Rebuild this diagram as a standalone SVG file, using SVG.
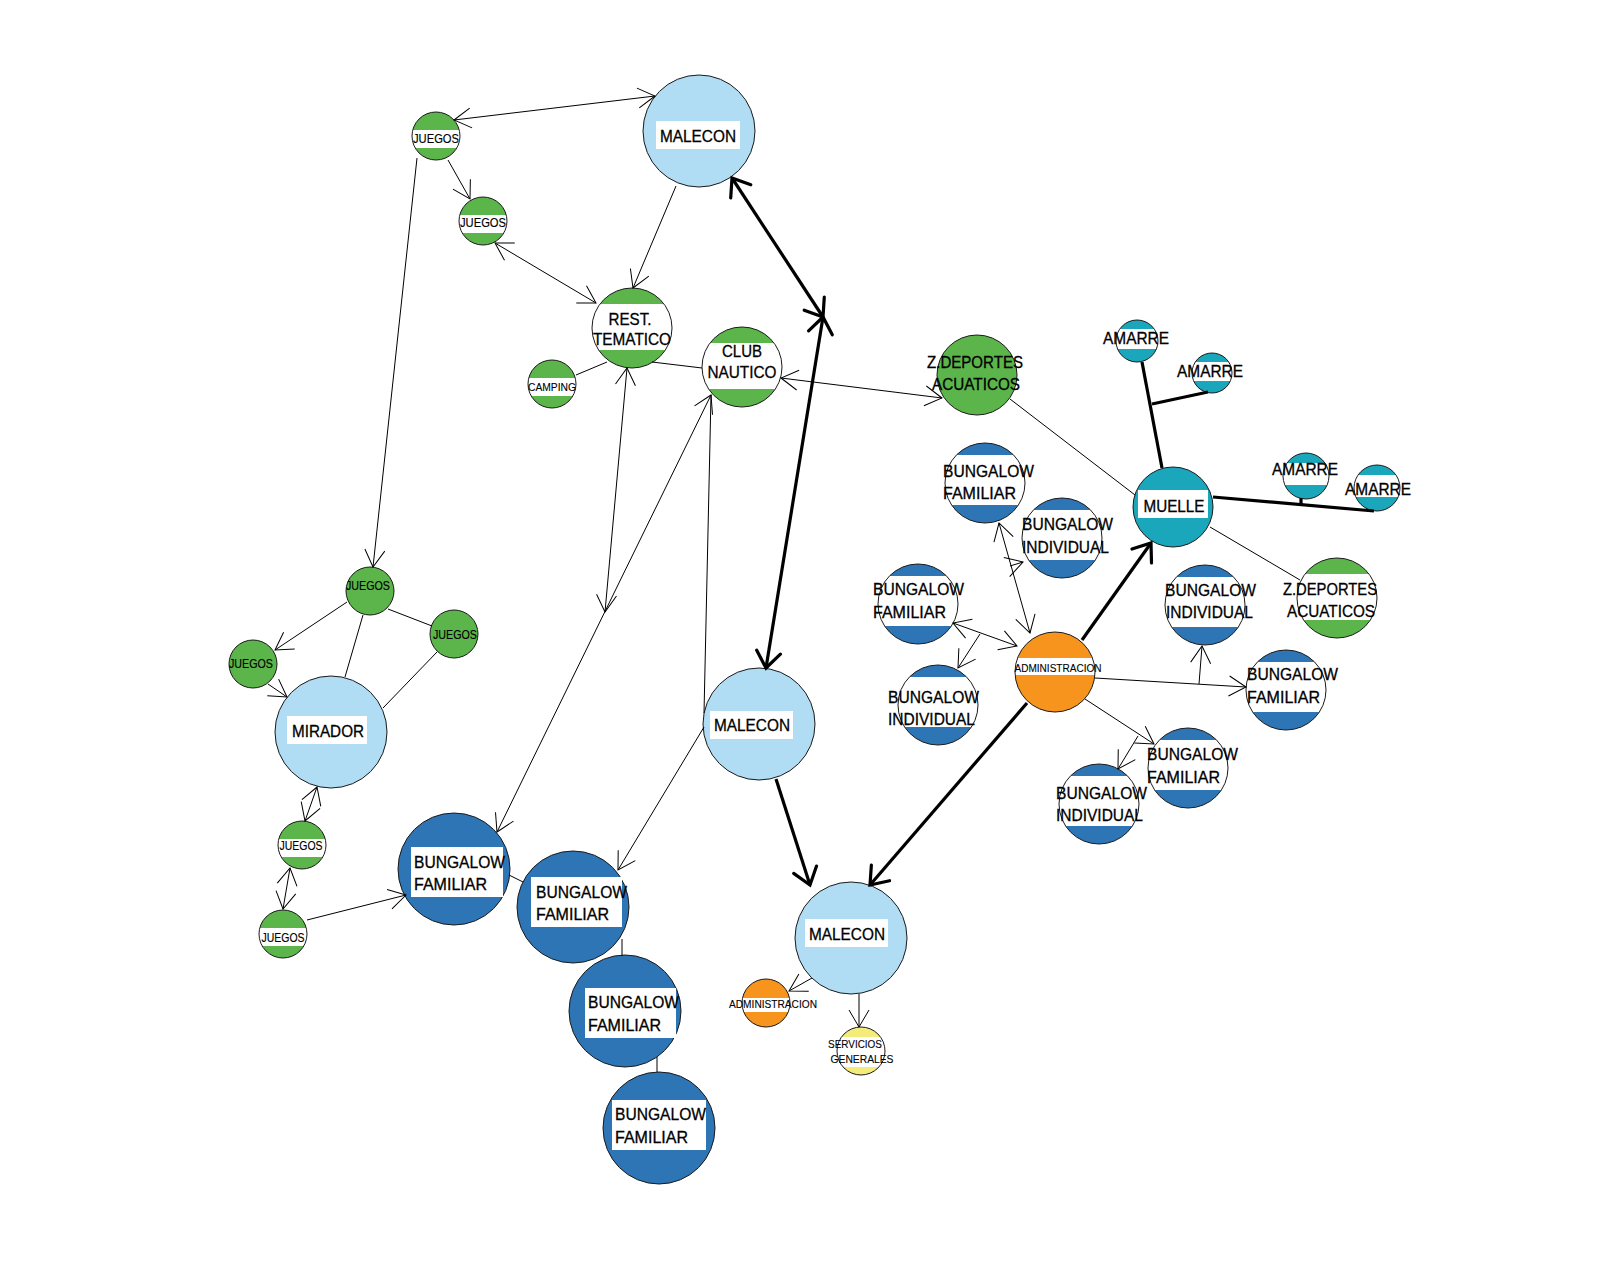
<svg xmlns="http://www.w3.org/2000/svg" width="1600" height="1280" viewBox="0 0 1600 1280">
<style>
.n{stroke:#1a1a1a;stroke-width:1}
.c{fill:none;stroke:#000;stroke-width:1}
.b{fill:none;stroke:#000;stroke-width:3.2}
.e{marker-end:url(#arr)}
.s{marker-start:url(#arr)}
.be{marker-end:url(#arrB)}
.bs{marker-start:url(#arrB)}
text{font-family:"Liberation Sans",Arial,sans-serif;fill:#000}
.tL{font-size:17px;stroke:#000;stroke-width:0.3}
.tS{font-size:12px;stroke:#000;stroke-width:0.15}
.tX{font-size:10.5px;stroke:#000;stroke-width:0.1}
.m{text-anchor:middle}
</style>
<defs>
<linearGradient id="gGreenS" x1="0" y1="0" x2="0" y2="1"><stop offset="0.38" stop-color="#5BB54A"/><stop offset="0.38" stop-color="#fff"/><stop offset="0.74" stop-color="#fff"/><stop offset="0.74" stop-color="#5BB54A"/></linearGradient>
<linearGradient id="gGreenL" x1="0" y1="0" x2="0" y2="1"><stop offset="0.2" stop-color="#5BB54A"/><stop offset="0.2" stop-color="#fff"/><stop offset="0.77" stop-color="#fff"/><stop offset="0.77" stop-color="#5BB54A"/></linearGradient>
<linearGradient id="gBlue" x1="0" y1="0" x2="0" y2="1"><stop offset="0.15" stop-color="#2E75B6"/><stop offset="0.15" stop-color="#fff"/><stop offset="0.775" stop-color="#fff"/><stop offset="0.775" stop-color="#2E75B6"/></linearGradient>
<linearGradient id="gTeal" x1="0" y1="0" x2="0" y2="1"><stop offset="0.22" stop-color="#1AA7BB"/><stop offset="0.22" stop-color="#fff"/><stop offset="0.7" stop-color="#fff"/><stop offset="0.7" stop-color="#1AA7BB"/></linearGradient>
<linearGradient id="gYellow" x1="0" y1="0" x2="0" y2="1"><stop offset="0.21" stop-color="#F4EC7A"/><stop offset="0.21" stop-color="#fff"/><stop offset="0.83" stop-color="#fff"/><stop offset="0.83" stop-color="#F4EC7A"/></linearGradient>
<linearGradient id="gOrangeS" x1="0" y1="0" x2="0" y2="1"><stop offset="0.4" stop-color="#F7941D"/><stop offset="0.4" stop-color="#fff"/><stop offset="0.69" stop-color="#fff"/><stop offset="0.69" stop-color="#F7941D"/></linearGradient>
<linearGradient id="gOrangeL" x1="0" y1="0" x2="0" y2="1"><stop offset="0.325" stop-color="#F7941D"/><stop offset="0.325" stop-color="#fff"/><stop offset="0.54" stop-color="#fff"/><stop offset="0.54" stop-color="#F7941D"/></linearGradient>
<marker id="arr" viewBox="-20 -12 22 24" refX="0" refY="0" markerWidth="22" markerHeight="24" markerUnits="userSpaceOnUse" orient="auto-start-reverse"><path d="M-17,-10 L0,0 L-17,10" fill="none" stroke="#000" stroke-width="1"/></marker>
<marker id="arrB" viewBox="-22 -15 25 30" refX="0" refY="0" markerWidth="25" markerHeight="30" markerUnits="userSpaceOnUse" orient="auto-start-reverse"><path d="M-16,-12 L0,0 L-16,12" fill="none" stroke="#000" stroke-width="3.2" stroke-linecap="round"/></marker>
</defs>
<rect x="0" y="0" width="1600" height="1280" fill="#fff"/>

<g id="nodes">
<g id="n-malecon-1"><circle class="n" cx="699" cy="131" r="56" fill="#B0DCF4"/><rect x="656" y="121" width="84" height="28" fill="#fff"/><text class="tL m" x="698" y="142" textLength="76" lengthAdjust="spacingAndGlyphs">MALECON</text></g>
<g id="n-juegos-1"><circle class="n" cx="436" cy="136" r="24" fill="url(#gGreenS)"/><text class="tS m" x="436" y="143" textLength="46" lengthAdjust="spacingAndGlyphs">JUEGOS</text></g>
<g id="n-juegos-2"><circle class="n" cx="483" cy="221" r="24" fill="url(#gGreenS)"/><text class="tS m" x="483" y="227" textLength="46" lengthAdjust="spacingAndGlyphs">JUEGOS</text></g>
<g id="n-rest"><circle class="n" cx="632" cy="328" r="40" fill="url(#gGreenL)"/><text class="tL m" x="630" y="325" textLength="43" lengthAdjust="spacingAndGlyphs">REST.</text><text class="tL m" x="632" y="345" textLength="78" lengthAdjust="spacingAndGlyphs">TEMATICO</text></g>
<g id="n-camping"><circle class="n" cx="552" cy="384" r="24" fill="url(#gGreenS)"/><text class="tX m" x="552" y="391" textLength="48" lengthAdjust="spacingAndGlyphs">CAMPING</text></g>
<g id="n-club"><circle class="n" cx="742" cy="367" r="40" fill="url(#gGreenL)"/><text class="tL m" x="742" y="357" textLength="40" lengthAdjust="spacingAndGlyphs">CLUB</text><text class="tL m" x="742" y="378" textLength="69" lengthAdjust="spacingAndGlyphs">NAUTICO</text></g>
<g id="n-zdep-1"><circle class="n" cx="977" cy="375" r="40" fill="#5BB54A"/><text class="tL m" x="975" y="368" textLength="96" lengthAdjust="spacingAndGlyphs">Z.DEPORTES</text><text class="tL m" x="976" y="390" textLength="88" lengthAdjust="spacingAndGlyphs">ACUATICOS</text></g>
<g id="n-juegos-3"><circle class="n" cx="370" cy="591" r="24" fill="#5BB54A"/><text class="tS m" x="368" y="590" textLength="44" lengthAdjust="spacingAndGlyphs">JUEGOS</text></g>
<g id="n-juegos-4"><circle class="n" cx="454" cy="634" r="24" fill="#5BB54A"/><text class="tS m" x="455" y="639" textLength="44" lengthAdjust="spacingAndGlyphs">JUEGOS</text></g>
<g id="n-juegos-5"><circle class="n" cx="253" cy="664" r="24" fill="#5BB54A"/><text class="tS m" x="251" y="668" textLength="44" lengthAdjust="spacingAndGlyphs">JUEGOS</text></g>
<g id="n-mirador"><circle class="n" cx="331" cy="732" r="56" fill="#B0DCF4"/><rect x="287" y="716" width="80" height="28" fill="#fff"/><text class="tL m" x="328" y="737" textLength="72" lengthAdjust="spacingAndGlyphs">MIRADOR</text></g>
<g id="n-juegos-6"><circle class="n" cx="302" cy="845" r="24" fill="url(#gGreenS)"/><text class="tS m" x="301" y="850" textLength="43" lengthAdjust="spacingAndGlyphs">JUEGOS</text></g>
<g id="n-juegos-7"><circle class="n" cx="283" cy="934" r="24" fill="url(#gGreenS)"/><text class="tS m" x="283" y="942" textLength="43" lengthAdjust="spacingAndGlyphs">JUEGOS</text></g>
<g id="n-bf-1"><circle class="n" cx="454" cy="869" r="56" fill="#2E75B6"/><rect x="411" y="847" width="92" height="50" fill="#fff"/><text class="tL" x="414" y="868" textLength="91" lengthAdjust="spacingAndGlyphs">BUNGALOW</text><text class="tL" x="414" y="890" textLength="73" lengthAdjust="spacingAndGlyphs">FAMILIAR</text></g>
<g id="n-bf-2"><circle class="n" cx="573" cy="907" r="56" fill="#2E75B6"/><rect x="531" y="877" width="91" height="50" fill="#fff"/><text class="tL" x="536" y="898" textLength="91" lengthAdjust="spacingAndGlyphs">BUNGALOW</text><text class="tL" x="536" y="920" textLength="73" lengthAdjust="spacingAndGlyphs">FAMILIAR</text></g>
<g id="n-bf-3"><circle class="n" cx="625" cy="1011" r="56" fill="#2E75B6"/><rect x="585" y="988" width="91" height="50" fill="#fff"/><text class="tL" x="588" y="1008" textLength="91" lengthAdjust="spacingAndGlyphs">BUNGALOW</text><text class="tL" x="588" y="1031" textLength="73" lengthAdjust="spacingAndGlyphs">FAMILIAR</text></g>
<g id="n-bf-4"><circle class="n" cx="659" cy="1128" r="56" fill="#2E75B6"/><rect x="612" y="1100" width="94" height="50" fill="#fff"/><text class="tL" x="615" y="1120" textLength="91" lengthAdjust="spacingAndGlyphs">BUNGALOW</text><text class="tL" x="615" y="1143" textLength="73" lengthAdjust="spacingAndGlyphs">FAMILIAR</text></g>
<g id="n-malecon-2"><circle class="n" cx="759" cy="724" r="56" fill="#B0DCF4"/><rect x="710" y="711" width="83" height="28" fill="#fff"/><text class="tL m" x="752" y="731" textLength="76" lengthAdjust="spacingAndGlyphs">MALECON</text></g>
<g id="n-malecon-3"><circle class="n" cx="851" cy="938" r="56" fill="#B0DCF4"/><rect x="805" y="919" width="83" height="28" fill="#fff"/><text class="tL m" x="847" y="940" textLength="76" lengthAdjust="spacingAndGlyphs">MALECON</text></g>
<g id="n-admin-1"><circle class="n" cx="766" cy="1003" r="24" fill="url(#gOrangeS)"/><text class="tX m" x="773" y="1008" textLength="88" lengthAdjust="spacingAndGlyphs">ADMINISTRACION</text></g>
<g id="n-servicios"><circle class="n" cx="861" cy="1051" r="24" fill="url(#gYellow)"/><text class="tX m" x="855" y="1048" textLength="54" lengthAdjust="spacingAndGlyphs">SERVICIOS</text><text class="tX m" x="862" y="1063" textLength="63" lengthAdjust="spacingAndGlyphs">GENERALES</text></g>
<g id="n-amarre-1"><circle class="n" cx="1137" cy="341" r="21" fill="url(#gTeal)"/><text class="tL m" x="1136" y="344" textLength="66" lengthAdjust="spacingAndGlyphs">AMARRE</text></g>
<g id="n-amarre-2"><circle class="n" cx="1212" cy="373" r="20" fill="url(#gTeal)"/><text class="tL m" x="1210" y="377" textLength="66" lengthAdjust="spacingAndGlyphs">AMARRE</text></g>
<g id="n-muelle"><circle class="n" cx="1173" cy="507" r="40" fill="#1AA7BB"/><rect x="1138" y="490" width="70" height="28" fill="#fff"/><text class="tL m" x="1174" y="512" textLength="61" lengthAdjust="spacingAndGlyphs">MUELLE</text></g>
<g id="n-amarre-3"><circle class="n" cx="1306" cy="476" r="23" fill="url(#gTeal)"/><text class="tL m" x="1305" y="475" textLength="66" lengthAdjust="spacingAndGlyphs">AMARRE</text></g>
<g id="n-amarre-4"><circle class="n" cx="1377" cy="488" r="23" fill="url(#gTeal)"/><text class="tL m" x="1378" y="495" textLength="66" lengthAdjust="spacingAndGlyphs">AMARRE</text></g>
<g id="n-bf-r1"><circle class="n" cx="985" cy="483" r="40" fill="url(#gBlue)"/><text class="tL" x="943" y="477" textLength="91" lengthAdjust="spacingAndGlyphs">BUNGALOW</text><text class="tL" x="943" y="499" textLength="73" lengthAdjust="spacingAndGlyphs">FAMILIAR</text></g>
<g id="n-bi-r1"><circle class="n" cx="1062" cy="538" r="40" fill="url(#gBlue)"/><text class="tL" x="1022" y="530" textLength="91" lengthAdjust="spacingAndGlyphs">BUNGALOW</text><text class="tL" x="1022" y="553" textLength="87" lengthAdjust="spacingAndGlyphs">INDIVIDUAL</text></g>
<g id="n-bf-r2"><circle class="n" cx="918" cy="604" r="40" fill="url(#gBlue)"/><text class="tL" x="873" y="595" textLength="91" lengthAdjust="spacingAndGlyphs">BUNGALOW</text><text class="tL" x="873" y="618" textLength="73" lengthAdjust="spacingAndGlyphs">FAMILIAR</text></g>
<g id="n-bi-r2"><circle class="n" cx="938" cy="705" r="40" fill="url(#gBlue)"/><text class="tL" x="888" y="703" textLength="91" lengthAdjust="spacingAndGlyphs">BUNGALOW</text><text class="tL" x="888" y="725" textLength="87" lengthAdjust="spacingAndGlyphs">INDIVIDUAL</text></g>
<g id="n-admin-2"><circle class="n" cx="1055" cy="672" r="40" fill="url(#gOrangeL)"/><text class="tX m" x="1058" y="672" textLength="87" lengthAdjust="spacingAndGlyphs">ADMINISTRACION</text></g>
<g id="n-bi-r3"><circle class="n" cx="1205" cy="605" r="40" fill="url(#gBlue)"/><text class="tL" x="1165" y="596" textLength="91" lengthAdjust="spacingAndGlyphs">BUNGALOW</text><text class="tL" x="1166" y="618" textLength="87" lengthAdjust="spacingAndGlyphs">INDIVIDUAL</text></g>
<g id="n-zdep-2"><circle class="n" cx="1337" cy="598" r="40" fill="url(#gGreenL)"/><text class="tL m" x="1330" y="595" textLength="94" lengthAdjust="spacingAndGlyphs">Z.DEPORTES</text><text class="tL m" x="1331" y="617" textLength="88" lengthAdjust="spacingAndGlyphs">ACUATICOS</text></g>
<g id="n-bf-r3"><circle class="n" cx="1286" cy="690" r="40" fill="url(#gBlue)"/><text class="tL" x="1247" y="680" textLength="91" lengthAdjust="spacingAndGlyphs">BUNGALOW</text><text class="tL" x="1247" y="703" textLength="73" lengthAdjust="spacingAndGlyphs">FAMILIAR</text></g>
<g id="n-bf-r4"><circle class="n" cx="1188" cy="768" r="40" fill="url(#gBlue)"/><text class="tL" x="1147" y="760" textLength="91" lengthAdjust="spacingAndGlyphs">BUNGALOW</text><text class="tL" x="1147" y="783" textLength="73" lengthAdjust="spacingAndGlyphs">FAMILIAR</text></g>
<g id="n-bi-r4"><circle class="n" cx="1099" cy="804" r="40" fill="url(#gBlue)"/><text class="tL" x="1056" y="799" textLength="91" lengthAdjust="spacingAndGlyphs">BUNGALOW</text><text class="tL" x="1056" y="821" textLength="87" lengthAdjust="spacingAndGlyphs">INDIVIDUAL</text></g>
</g>

<g id="connectors">
<line class="c s e" x1="454" y1="120" x2="655" y2="96"/>
<line class="c e" x1="448" y1="160" x2="470" y2="199"/>
<line class="c e" x1="417" y1="158" x2="373" y2="567"/>
<line class="c s e" x1="495" y1="243" x2="596" y2="303"/>
<line class="c e" x1="676" y1="186" x2="633" y2="288"/>
<line class="c" x1="576" y1="375" x2="607" y2="362"/>
<line class="c" x1="652" y1="362" x2="702" y2="368"/>
<line class="c s e" x1="781" y1="378" x2="942" y2="398"/>
<line class="c s e" x1="627" y1="368" x2="605" y2="612"/>
<line class="c s e" x1="711" y1="395" x2="497" y2="832"/>
<line class="c" x1="704" y1="713" x2="711" y2="395"/>
<line class="c e" x1="704" y1="727" x2="618" y2="870"/>
<line class="c" x1="509" y1="875" x2="523" y2="882"/>
<line class="c" x1="622" y1="939" x2="622" y2="956"/>
<line class="c" x1="657" y1="1057" x2="657" y2="1072"/>
<line class="b bs be" x1="732" y1="178" x2="823" y2="317"/>
<line class="b bs be" x1="823" y1="317" x2="766" y2="668"/>
<line class="b be" x1="776" y1="779" x2="810" y2="885"/>
<line class="b be" x1="1027" y1="703" x2="870" y2="885"/>
<line class="b be" x1="1082" y1="640" x2="1151" y2="543"/>
<line class="b" x1="1162" y1="468" x2="1142" y2="362"/>
<line class="b" x1="1152" y1="404" x2="1208" y2="392"/>
<line class="b" x1="1213" y1="497" x2="1374" y2="511"/>
<line class="b" x1="1301" y1="505" x2="1301" y2="498"/>
<line class="c" x1="1010" y1="399" x2="1135" y2="495"/>
<line class="c" x1="1210" y1="527" x2="1300" y2="580"/>
<line class="c s e" x1="999" y1="523" x2="1030" y2="633"/>
<line class="c e" x1="1010" y1="566" x2="1023" y2="562"/>
<line class="c s e" x1="953" y1="623" x2="1017" y2="646"/>
<line class="c e" x1="980" y1="634" x2="958" y2="668"/>
<line class="c e" x1="1095" y1="678" x2="1246" y2="687"/>
<line class="c e" x1="1199" y1="684" x2="1202" y2="646"/>
<line class="c e" x1="1085" y1="699" x2="1154" y2="744"/>
<line class="c e" x1="1138" y1="736" x2="1118" y2="769"/>
<line class="c e" x1="812" y1="978" x2="789" y2="991"/>
<line class="c e" x1="859" y1="994" x2="859" y2="1027"/>
<line class="c e" x1="347" y1="602" x2="275" y2="650"/>
<line class="c e" x1="268" y1="684" x2="287" y2="697"/>
<line class="c" x1="363" y1="615" x2="345" y2="677"/>
<line class="c" x1="388" y1="609" x2="432" y2="626"/>
<line class="c" x1="437" y1="652" x2="383" y2="708"/>
<line class="c s e" x1="317" y1="787" x2="305" y2="821"/>
<line class="c s e" x1="290" y1="868" x2="283" y2="909"/>
<line class="c e" x1="307" y1="920" x2="406" y2="895"/>
</g>
</svg>
